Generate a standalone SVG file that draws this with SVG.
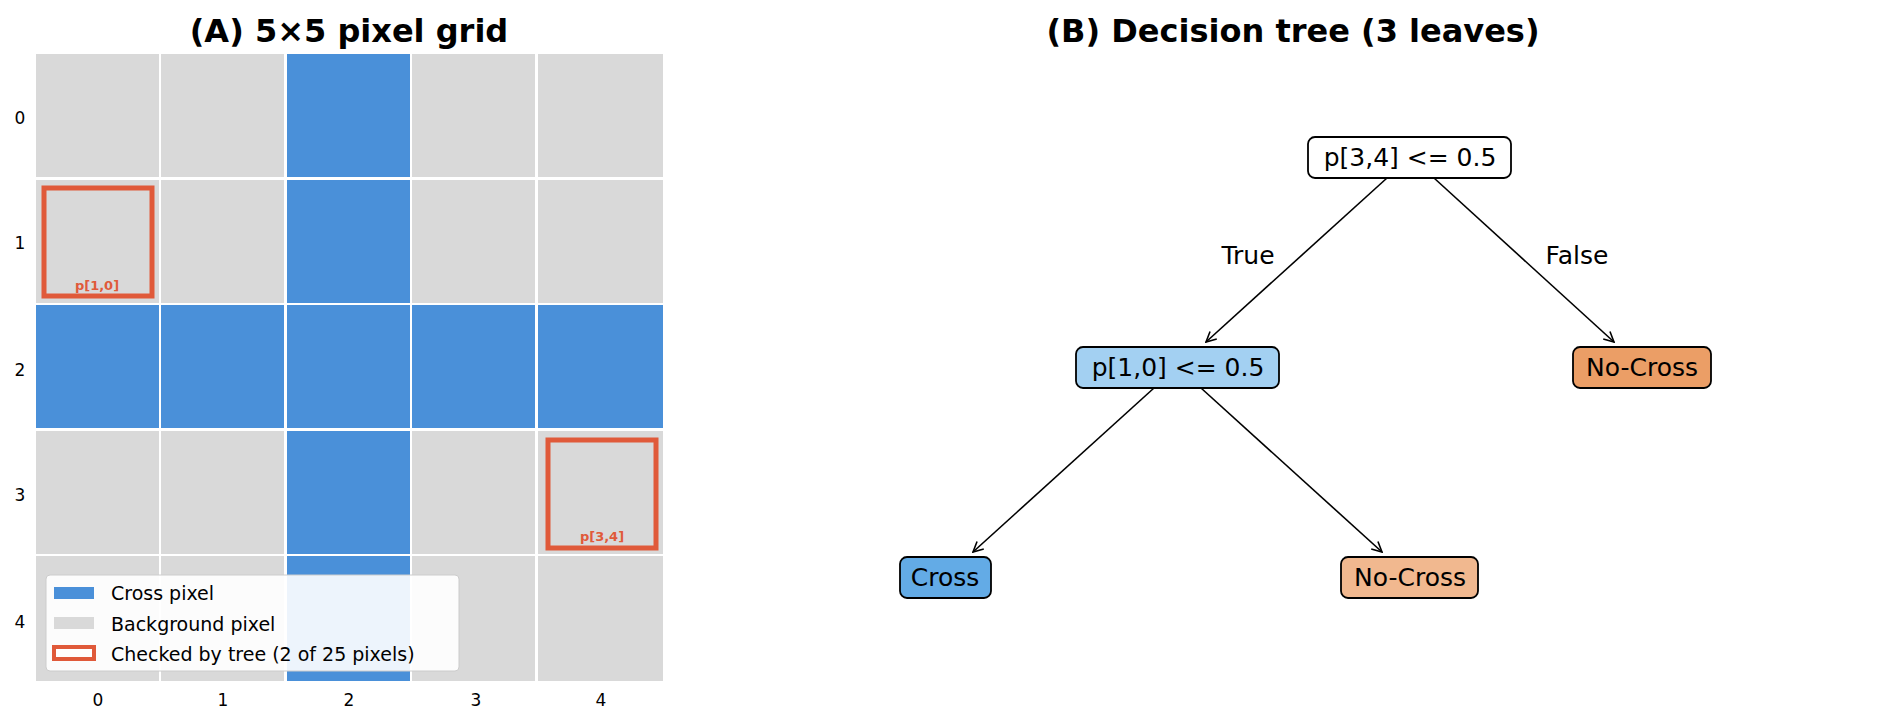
<svg xmlns="http://www.w3.org/2000/svg" width="1889" height="724" viewBox="0 0 1889 724">
<style>
text{font-family:"DejaVu Sans",sans-serif;fill:#000}
.t{font-size:32px;font-weight:bold;text-anchor:middle}
.k{font-size:17px;text-anchor:middle}
.c{fill:#4a90d9}
.g{fill:#d9d9d9}
.chk{fill:none;stroke:#e05a3a;stroke-width:5}
.cl{font-size:13px;font-weight:bold;fill:#e05a3a;text-anchor:middle}
.lg{font-size:19px}
.n rect{stroke:#000;stroke-width:1.8}
.n text{font-size:25px;text-anchor:middle}
.e line{stroke:#000;stroke-width:1.6;marker-end:url(#a)}
.el{font-size:25px;text-anchor:middle}
</style>
<defs>
<marker id="a" viewBox="0 0 12 12" refX="11" refY="6" markerWidth="12" markerHeight="12" markerUnits="userSpaceOnUse" orient="auto">
<polyline points="1,1 11,6 1,11" fill="none" stroke="#000" stroke-width="1.6"/>
</marker>
</defs>
<rect width="1889" height="724" fill="#fff"/>
<text class="t" x="349" y="42">(A) 5×5 pixel grid</text>
<g id="grid">
<rect class="g" x="36" y="54" width="123" height="123"/><rect class="g" x="161" y="54" width="123" height="123"/><rect class="c" x="287" y="54" width="123" height="123"/><rect class="g" x="412" y="54" width="123" height="123"/><rect class="g" x="538" y="54" width="125" height="123"/>
<rect class="g" x="36" y="180" width="123" height="123"/><rect class="g" x="161" y="180" width="123" height="123"/><rect class="c" x="287" y="180" width="123" height="123"/><rect class="g" x="412" y="180" width="123" height="123"/><rect class="g" x="538" y="180" width="125" height="123"/>
<rect class="c" x="36" y="305" width="123" height="123"/><rect class="c" x="161" y="305" width="123" height="123"/><rect class="c" x="287" y="305" width="123" height="123"/><rect class="c" x="412" y="305" width="123" height="123"/><rect class="c" x="538" y="305" width="125" height="123"/>
<rect class="g" x="36" y="431" width="123" height="123"/><rect class="g" x="161" y="431" width="123" height="123"/><rect class="c" x="287" y="431" width="123" height="123"/><rect class="g" x="412" y="431" width="123" height="123"/><rect class="g" x="538" y="431" width="125" height="123"/>
<rect class="g" x="36" y="556" width="123" height="125"/><rect class="g" x="161" y="556" width="123" height="125"/><rect class="c" x="287" y="556" width="123" height="125"/><rect class="g" x="412" y="556" width="123" height="125"/><rect class="g" x="538" y="556" width="125" height="125"/>
</g>
<g id="checked">
<rect class="chk" x="44" y="188" width="108" height="108"/>
<text class="cl" x="97" y="290">p[1,0]</text>
<rect class="chk" x="548" y="440" width="108" height="108"/>
<text class="cl" x="602" y="541">p[3,4]</text>
</g>
<g id="ticks">
<text class="k" x="20" y="124">0</text><text class="k" x="20" y="249">1</text><text class="k" x="20" y="376">2</text><text class="k" x="20" y="501">3</text><text class="k" x="20" y="628">4</text>
<text class="k" x="98" y="706">0</text><text class="k" x="223" y="706">1</text><text class="k" x="349" y="706">2</text><text class="k" x="476" y="706">3</text><text class="k" x="601" y="706">4</text>
</g>
<g id="legend">
<rect x="46" y="575" width="413" height="96" rx="4" fill="#fff" fill-opacity="0.9" stroke="#ccc" stroke-width="1"/>
<rect x="54" y="587" width="40" height="12" fill="#4a90d9"/>
<text class="lg" x="111" y="600">Cross pixel</text>
<rect x="54" y="617" width="40" height="12" fill="#d9d9d9"/>
<text class="lg" x="111" y="631">Background pixel</text>
<rect x="54" y="647" width="40" height="12" fill="#fff" stroke="#e05a3a" stroke-width="4"/>
<text class="lg" x="111" y="661">Checked by tree  (2 of 25 pixels)</text>
</g>
<text class="t" x="1293" y="42">(B) Decision tree (3 leaves)</text>
<g id="edges" class="e">
<line x1="1387" y1="178" x2="1206" y2="342"/>
<line x1="1434" y1="178" x2="1614" y2="342"/>
<line x1="1154" y1="388" x2="973" y2="552"/>
<line x1="1201" y1="388" x2="1382" y2="552"/>
<text class="el" x="1248" y="264">True</text>
<text class="el" x="1577" y="264">False</text>
</g>
<g id="root" class="n"><rect x="1308" y="137" width="203" height="41" rx="7" fill="#fff"/><text x="1410" y="166">p[3,4] &lt;= 0.5</text></g>
<g id="split2" class="n"><rect x="1076" y="347" width="203" height="41" rx="7" fill="#a3d0f2"/><text x="1178" y="376">p[1,0] &lt;= 0.5</text></g>
<g id="leafR" class="n"><rect x="1573" y="347" width="138" height="41" rx="7" fill="#eb9e66"/><text x="1642" y="376">No-Cross</text></g>
<g id="leafCross" class="n"><rect x="900" y="557" width="91" height="41" rx="7" fill="#63abe6"/><text x="945" y="586">Cross</text></g>
<g id="leafNC" class="n"><rect x="1341" y="557" width="137" height="41" rx="7" fill="#f1b88f"/><text x="1410" y="586">No-Cross</text></g>
</svg>
